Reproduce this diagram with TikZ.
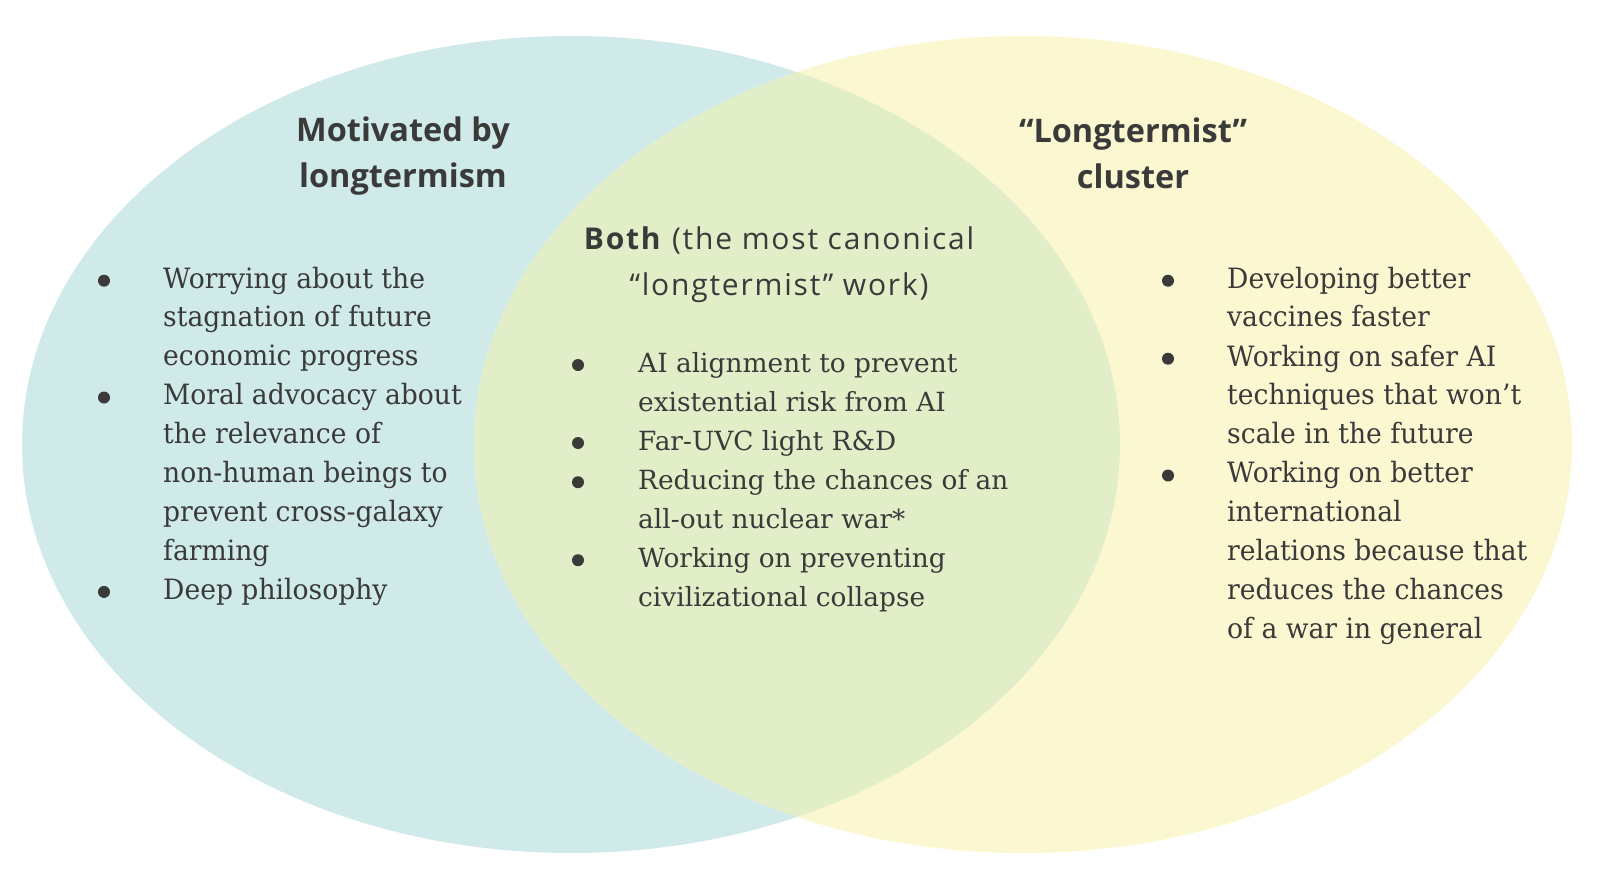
\documentclass[tikz,border=0pt]{standalone}
\usepackage{fontspec}
\setmainfont{DejaVu Serif}
\newfontfamily\sideserif[FakeStretch=0.95]{DejaVu Serif}
\newfontfamily\headsans{Open Sans}
\newfontfamily\bothsans[LetterSpace=6]{Open Sans}
\usepackage{xcolor}
\definecolor{vnteal}{RGB}{207,234,233}
\definecolor{vnyellow}{RGB}{250,247,209}
\definecolor{vnmix}{RGB}{226,238,199}
\definecolor{vnink}{RGB}{58,58,58}
\usetikzlibrary{positioning}

\begin{document}
\begin{tikzpicture}[x=1pt,y=-1pt,
  head/.style={font=\headsans\bfseries\fontsize{32.5}{46}\selectfont,align=center,text=vnink,inner sep=0},
  bothhead/.style={font=\bothsans\fontsize{30}{46}\selectfont,align=center,text=vnink,inner sep=0},
  sideitem/.style={font=\sideserif\fontsize{28}{38.8}\selectfont,align=left,text=vnink,inner sep=0,anchor=north west},
  miditem/.style={font=\fontsize{26.4}{38.8}\selectfont,align=left,text=vnink,inner sep=0,anchor=north west}]
  \useasboundingbox (0,0) rectangle (1600,878);
  \fill[vnteal] (571,444.5) ellipse [x radius=549, y radius=408.5];
  \fill[vnyellow] (1023,444.5) ellipse [x radius=549, y radius=408.5];
  \begin{scope}
    \clip (571,444.5) ellipse [x radius=549, y radius=408.5];
    \fill[vnmix] (1023,444.5) ellipse [x radius=549, y radius=408.5];
  \end{scope}

  \node[head] (lefthead) at (403,156) {Motivated by\\longtermism};
  \node[head] (righthead) at (1133,153) {“Longtermist”\\cluster};
  \node[bothhead] (midhead) at (779,265) {\textbf{Both} (the most canonical\\“longtermist” work)};

  \node[sideitem] (l1) at (163,260.7) {\strut Worrying about the\\stagnation of future\\economic progress\strut};
  \node[sideitem,below=0pt of l1.south west,anchor=north west] (l2) {\strut Moral advocacy about\\the relevance of\\non-human beings to\\prevent cross-galaxy\\farming\strut};
  \node[sideitem,below=0pt of l2.south west,anchor=north west] (l3) {\strut Deep philosophy\strut};

  \node[miditem] (m1) at (638,345) {\strut AI alignment to prevent\\existential risk from AI\strut};
  \node[miditem,below=0pt of m1.south west,anchor=north west] (m2) {\strut Far-UVC light R\&D\strut};
  \node[miditem,below=0pt of m2.south west,anchor=north west] (m3) {\strut Reducing the chances of an\\all-out nuclear war*\strut};
  \node[miditem,below=0pt of m3.south west,anchor=north west] (m4) {\strut Working on preventing\\civilizational collapse\strut};

  \node[sideitem] (r1) at (1227,260.7) {\strut Developing better\\vaccines faster\strut};
  \node[sideitem,below=0pt of r1.south west,anchor=north west] (r2) {\strut Working on safer AI\\techniques that won’t\\scale in the future\strut};
  \node[sideitem,below=0pt of r2.south west,anchor=north west] (r3) {\strut Working on better\\international\\relations because that\\reduces the chances\\of a war in general\strut};

  \foreach \n in {l1,l2,l3,r1,r2,r3}
    \fill[vnink] ([shift={(-59,20)}]\n.north west) circle (6);
  \foreach \n in {m1,m2,m3,m4}
    \fill[vnink] ([shift={(-60,20)}]\n.north west) circle (6);
\end{tikzpicture}
\end{document}
